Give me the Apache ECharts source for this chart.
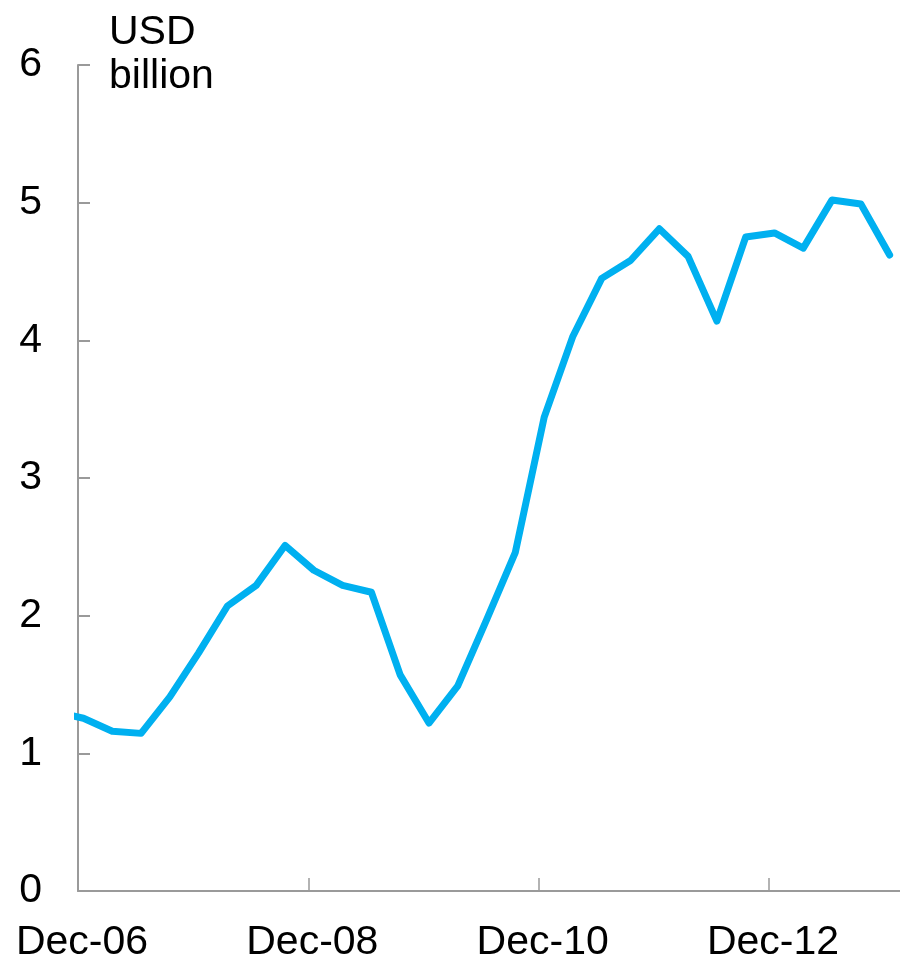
<!DOCTYPE html>
<html>
<head>
<meta charset="utf-8">
<script src="https://cdn.jsdelivr.net/npm/echarts@6/dist/echarts.min.js"></script>
<style>html,body{margin:0;padding:0;background:#fff}#c{width:900px;height:963px}</style>
</head>
<body>
<div id="c"></div>
<script>
const categories = ["Sep-06","Dec-06","Mar-07","Jun-07","Sep-07","Dec-07","Mar-08","Jun-08","Sep-08","Dec-08","Mar-09","Jun-09","Sep-09","Dec-09","Mar-10","Jun-10","Sep-10","Dec-10","Mar-11","Jun-11","Sep-11","Dec-11","Mar-12","Jun-12","Sep-12","Dec-12","Mar-13","Jun-13","Sep-13","Dec-13"];
const values = [1.30,1.255,1.16,1.145,1.41,1.73,2.07,2.22,2.51,2.33,2.22,2.17,1.57,1.22,1.49,1.97,2.46,3.44,4.03,4.45,4.58,4.81,4.61,4.14,4.75,4.78,4.67,5.02,4.99,4.62];
const xTickLabels = ["Dec-06","Dec-08","Dec-10","Dec-12"];
const yTicks = [0,1,2,3,4,5,6];
const unitLabel = "USD\nbillion";

// quarter index relative to Dec-06 tick; data sit slightly after the tick (end of period)
const pointOffset = 0.19;

const chart = echarts.init(document.getElementById('c'));
const font = '"Liberation Sans", Arial, sans-serif';
const axisGray = '#9a9a9a';
chart.setOption({
  animation: false,
  backgroundColor: '#ffffff',
  title: {
    text: unitLabel,
    left: 104, top: 6,
    textStyle: {fontFamily: font, fontSize: 41, fontWeight: 'normal', color: '#000', lineHeight: 44}
  },
  grid: {left: 78, right: 0, top: 65, bottom: 71, containLabel: false},
  xAxis: {
    type: 'value',
    min: 0, max: 28.55, interval: 8,
    splitLine: {show: false},
    axisLine: {show: true, lineStyle: {color: axisGray, width: 2}},
    axisTick: {show: true, inside: true, length: 13, lineStyle: {color: axisGray, width: 1.5}},
    axisLabel: {
      showMaxLabel: false,
      margin: 31,
      padding: [0, 0, 0, 8],
      fontFamily: font, fontSize: 41, color: '#000',
      formatter: v => (v % 8 === 0 && xTickLabels[v / 8] !== undefined) ? xTickLabels[v / 8] : ''
    }
  },
  yAxis: {
    type: 'value',
    min: yTicks[0], max: yTicks[yTicks.length-1], interval: 1,
    splitLine: {show: false},
    axisLine: {show: true, lineStyle: {color: axisGray, width: 2}},
    axisTick: {show: true, inside: true, length: 12, lineStyle: {color: axisGray, width: 2}},
    axisLabel: {margin: 36, padding: [3, 0, 0, 0], fontFamily: font, fontSize: 41, color: '#000'}
  },
  series: [{
    type: 'line',
    data: values.map((v, i) => [i - 1 + pointOffset, v]),
    showSymbol: false,
    symbol: 'none',
    lineStyle: {color: '#00B0F0', width: 7, join: 'round', cap: 'round'},
    clip: true
  }]
});
</script>
</body>
</html>
